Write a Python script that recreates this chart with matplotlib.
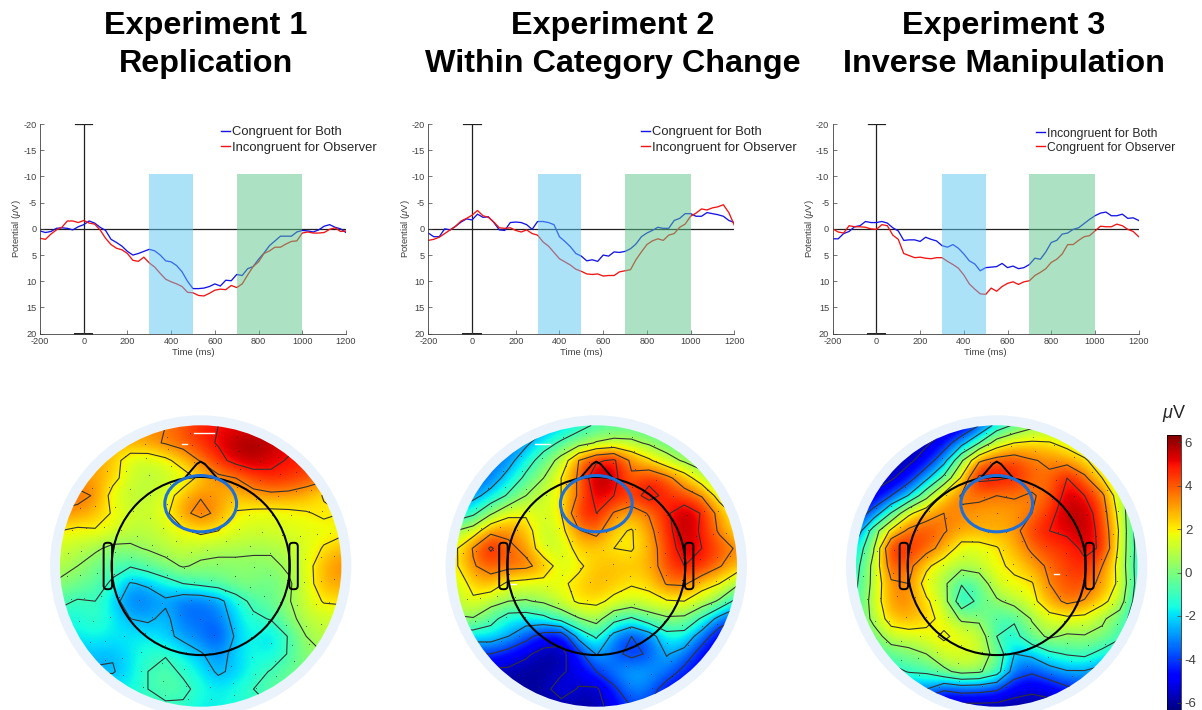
import numpy as np
import matplotlib
matplotlib.use('Agg')
import matplotlib.pyplot as plt
from matplotlib.patches import Circle, Ellipse, FancyBboxPatch

plt.rcParams['font.family'] = ['Liberation Sans', 'DejaVu Sans']
plt.rcParams['mathtext.fontset'] = 'custom'
plt.rcParams['mathtext.it'] = 'Liberation Sans:italic'
plt.rcParams['mathtext.rm'] = 'Liberation Sans'
plt.rcParams['axes.unicode_minus'] = False

W, H = 1202, 710

titles = [['Experiment 1', 'Replication'],
          ['Experiment 2', 'Within Category Change'],
          ['Experiment 3', 'Inverse Manipulation']]
legend_1 = ['Congruent for Both', 'Incongruent for Observer']
legend_2 = ['Congruent for Both', 'Incongruent for Observer']
legend_3 = ['Incongruent for Both', 'Congruent for Observer']

time_ms = list(range(-200, 1225, 25))

exp1_blue = [.4, .7, .5, -.1, -.2, -.1, .2, -.4, -.8, -1.5, -1.1, -.3, .3, 2.0, 2.6, 3.3, 4.3, 5.0, 4.7, 4.3,
             3.9, 4.2, 5.0, 6.1, 6.3, 7.0, 8.2, 10.0, 11.4, 11.4, 11.3, 11.0, 10.5, 10.9, 9.8, 9.9, 8.7, 8.9,
             7.6, 7.2, 5.8, 4.6, 3.2, 2.3, 1.4, 1.4, 1.4, .6, .3, .4, .6, .2, -.5, -.8, -.3, 0, .7]
exp1_red = [1.8, 2.0, 1.0, .2, -.3, -1.5, -1.5, -1.2, -1.6, -1.1, -.9, .2, 1.8, 3.0, 3.7, 4.0, 4.7, 6.0, 6.2, 5.4,
            6.5, 7.3, 8.5, 9.6, 10.1, 10.5, 11, 12.1, 12.2, 12.7, 12.8, 12.3, 11.7, 11.5, 11.6, 10.8, 11.2, 10.5,
            8.8, 7.2, 6.3, 4.7, 4.2, 3.5, 3.5, 2.9, 2.4, 2.3, .8, .6, .8, .8, .7, .1, -.2, .5, .4]
exp2_blue = [.8, 1.5, 1.5, 0, .2, -.5, -1.3, -1.9, -1.7, -2.8, -2.2, -2.3, -1.2, .2, .3, -1.2, -1.3, -1.2, -.8, .1,
             -1.4, -1.4, -1.2, -.8, 1.5, 2.4, 3.4, 4.7, 5.2, 6.1, 5.9, 6.2, 5.0, 5.2, 4.4, 4.5, 4.3, 3.8,
             2.9, 1.5, .8, .3, -.3, -.1, -.1, -1.6, -2.0, -2.9, -2.9, -2.4, -2.4, -3.1, -2.9, -2.7, -2.4, -1.6, -1.2]
exp2_red = [2.2, 2, 1.6, .9, .2, -.5, -1.5, -2, -2.6, -3.5, -2.5, -2.2, -1.3, -.2, -.1, -.2, .3, .6, .2, .9,
            1.2, 2.5, 3.3, 4.5, 5.7, 6.3, 6.9, 7.7, 8.1, 8.6, 8.7, 8.6, 9.0, 8.9, 8.9, 8.2, 8.0, 7.8,
            5.9, 4.4, 3.0, 2.3, 1.9, 2.2, 1.2, .9, -.3, -.9, -2.4, -3, -3.8, -3.6, -4.0, -4.2, -4.6, -3.1, -.7]
exp3_blue = [1.9, 1.9, .9, .5, -.4, -.6, -1.4, -1.2, -1.2, -1.4, -1.1, -.2, .4, 2.2, 2.1, 2.1, 2.4, 1.6, 2.0, 2.3,
             3.2, 3.5, 3.0, 3.7, 4.8, 6.1, 6.7, 8, 7.4, 7.3, 7.2, 6.6, 7.4, 7.1, 7.6, 7.4, 6.8, 5.6,
             5.8, 4.4, 2.6, 2.2, 1.0, .8, .1, -.2, -1.0, -1.8, -2.5, -3.0, -3.2, -2.5, -2.5, -2.8, -2.0, -2.1, -1.6]
exp3_red = [0, .6, .8, -.6, -.4, -.4, -.3, 0, .1, -.8, -.6, 1.2, 2.0, 4.7, 5.1, 5.5, 5.4, 5.6, 5.7, 5.5,
            5.5, 6.2, 6.8, 7.5, 8.8, 10.5, 11.5, 12.4, 12.5, 11.3, 11.9, 11.0, 10.4, 10.1, 10.6, 10.1, 9.9, 8.9,
            8.3, 7.6, 6.4, 5.8, 4.8, 3.0, 3.0, 2.2, 1.5, 1.3, .4, -.5, -.4, -.4, -.9, -.6, .1, .5, 1.5]

# scalp maps, top row first, left to right
map1 = [
    [3, 3, 3, 3, 3, 3, 3.5, 4, 4.7, 5, 5, 5, 5, 5, 5, 5, 5],
    [2.5, 2.5, 2.5, 2.7, 3, 3.2, 3.6, 4, 4.6, 5.1, 5.8, 6, 5.7, 5.3, 5, 5, 5],
    [3, 3, 3, 2.6, 1.3, 1.2, 1.7, 2.6, 3.6, 4.6, 5.4, 5.7, 5.3, 4.9, 4.7, 4.5, 4],
    [3, 3, 3, 2.4, 1.3, 1.0, 1.0, 1.4, 2.3, 3.2, 3.5, 4.3, 4.7, 4.6, 4.2, 3.9, 3.5],
    [4, 3.8, 3.4, 1.5, 1.0, 1.0, 1.5, 2.5, 3.4, 3.0, 2.6, 3.0, 3.2, 3.1, 2.8, 1.9, 2],
    [3.3, 3.2, 2.6, 1.9, 1.3, 1.2, 1.7, 3.2, 3.9, 3.2, 1.9, 1.7, 1.6, 1.7, 1.9, 2.2, 2.0],
    [2, 1.7, 1.9, 1.5, 1.0, 1.0, 1.3, 1.8, 2.3, 2.0, 1.5, 1.3, 1.4, 1.5, 1.6, 1.6, 1.7],
    [1.3, 1, .7, .2, .3, .6, .9, 1.2, .9, .8, .8, .7, .7, 1.0, 1.4, 2.1, 2.6],
    [.9, .5, -.1, -.6, -.9, -.4, .1, .6, .3, .2, .2, .2, .2, .7, 1.5, 2.8, 3.4],
    [.3, -.2, -.5, -1.2, -2.6, -2.3, -1.6, -1.0, -.7, -.4, .1, .1, -.3, .3, 1.4, 2.8, 3],
    [-.7, -1.1, -1.0, -2.0, -3.2, -3.2, -2.7, -3.4, -3.4, -2.9, -1.7, -.6, -.4, .4, 1.3, 2.1, 2.2],
    [-1.5, -1.5, -1.0, -1.7, -2.5, -2.7, -2.2, -3.3, -3.4, -3.3, -2, -1.3, -.9, .1, 1, 1.2, 1.2],
    [-1.8, -1.8, -1.6, -1.8, -1.8, -1.8, -2.2, -2.8, -3.2, -4.0, -2.3, -1.5, -2.2, -.9, .5, 1, 1],
    [-2.3, -2.3, -2.3, -2.4, -1.9, -1.3, -1.1, -1.8, -2.4, -3.0, -2.1, -1.5, -1.8, -.9, .2, .5, .5],
    [-2.6, -2.6, -2.6, -2.6, -1.9, -1.0, -.6, -1.2, -1.8, -2.7, -2.2, -1.5, -.9, -.3, 0, 0, 0],
    [-1.7, -1.7, -1.7, -1.7, -1.7, -1.0, -.6, -.7, -1.4, -1.8, -1.5, -1.0, -.5, -.4, -.4, -.4, -.4],
    [-1.2, -1.2, -1.2, -1.2, -1.2, -1.2, -1.2, -1.2, -1.8, -1.7, -1.5, -1.2, -1, -.8, -.8, -.8, -.8],
]
map2 = [
    [-4, -4, -4, -4, -3.5, -3, -2.2, -1.5, -.8, -.6, -.6, -.8, -1, -1, -1, -1, -1],
    [-4, -4, -4, -3.5, -2.8, -1.6, -.8, -.1, .6, .9, .8, .3, -.3, -.5, -.8, -.8, -.8],
    [-4, -4, -3.5, -3, -1.6, -.4, 1, 3.5, 4.8, 5.2, 3.2, 2.2, 1.1, .3, -.3, -.5, -.5],
    [-4, -3.8, -3.2, -2, -.7, .5, 2, 3.7, 6.0, 5.4, 3.7, 4.6, 3.9, 2.7, 1.2, .2, 0],
    [-3.5, -2.9, -2, -.8, .5, 1.2, 2.0, 3.7, 5.4, 5.0, 4.4, 5.5, 4.6, 4.1, 3.4, 1.4, .6],
    [-2, -1.3, .3, 1.6, 1.8, 1.2, 2.0, 4.6, 5.0, 3.4, 2.9, 3.6, 4.8, 5.8, 4.9, 3, 1.5],
    [.5, 1.2, 3.1, 3.2, 2.6, 1.0, 1.6, 3.4, 4.0, 2.3, 1.9, 3.1, 4.6, 5.8, 4.8, 3.3, 2],
    [1.8, 3.6, 5.2, 3.8, 3.2, 1.0, 1.3, 2.4, 2.4, 2.0, 1.9, 2.7, 4.4, 5.5, 5, 4.2, 3.3],
    [1.8, 3.4, 4, 3.9, 3.8, 3.0, 1.2, 1.8, 2.5, 2.7, 2.5, 2.8, 4.2, 5.0, 4.7, 3.6, 2.7],
    [1.2, 2.4, 2.9, 1.7, 1.5, 1.5, 1.8, 2.3, 2.8, 2.5, 2.1, 2.3, 3.6, 3.7, 2.5, 2, .8],
    [.9, 1.8, 1, .5, .4, .7, 1.4, 2.2, 2.3, 1.7, 1.4, 1.6, 1.9, 2, 1.3, .3, -1.5],
    [.4, .4, -.5, -1.7, -1.8, -1.4, -.5, .4, 1, -.5, -1.2, -.2, .3, .2, -1.2, -3, -4],
    [-1.8, -1.8, -1.8, -2.5, -3.5, -4.7, -5, -2, -.8, -3, -4, -3.2, -1.5, -1.6, -3.2, -5, -5.5],
    [-4, -4, -4, -4.6, -5.3, -5.9, -5.9, -4.5, -2.4, -3.6, -4.4, -3.8, -2.4, -3, -4.8, -5.5, -5.5],
    [-5.8, -5.8, -5.8, -5.8, -6, -6, -5.7, -5, -4, -3, -2.6, -2.7, -3.1, -4.5, -5, -5, -5],
    [-6, -6, -6, -6, -6, -5.9, -4.9, -5.6, -5.7, -4.3, -2.9, -3.2, -4.8, -5, -5, -5, -5],
    [-6, -6, -6, -6, -6, -6, -6, -5.8, -5.9, -5, -4, -4, -5, -5, -5, -5, -5],
]
map3 = [
    [-6, -6, -6, -6, -6, -6, -5.5, -4, -2, -.8, .1, .3, .3, .3, .3, .3, .3],
    [-6, -6, -6, -6, -5.7, -4.8, -3, -1, 1.2, 2, 2.2, 2.1, 1.5, .9, .5, .3, .2],
    [-6, -6, -6, -5.8, -4.8, -3, .3, 3.3, 4, 4.2, 3.6, 3.3, 3, 2.2, 1.1, .5, .3],
    [-6, -6, -5.7, -4.6, -2.8, -.6, 2.2, 5.3, 5.2, 4.9, 3.9, 3.7, 5, 3.8, 2, 1, 0],
    [-6, -5.3, -4, -2.4, 0, 2.5, 3.6, 3.8, 3.5, 3.6, 3.4, 3.8, 5.5, 5, 3.8, 1, -.8],
    [-5, -3.4, -.9, 1.7, 2.9, 3.5, 3.4, 3, 3, 3.1, 3.5, 4.6, 5.7, 5.7, 4.2, 1.5, -1.5],
    [-3.5, -.3, 2.3, 3.8, 4.2, 3.6, 3, 2.9, 2.9, 3, 4.5, 5, 5.2, 5.8, 4.5, 1.8, -1.7],
    [-2, .4, 5.0, 4.7, 4, 3, 1.4, 1.5, 1.9, 2.8, 3.7, 4.4, 4.6, 5.2, 4.9, 1.6, -1.5],
    [-1.5, .9, 4.2, 3.9, 2.3, 1.2, .9, 1.1, 1.9, 2.1, 3, 3.7, 4.4, 4.8, 3.5, 1.5, -1.6],
    [-1.2, .9, 3.3, 3.5, 1.4, .8, -.9, -.4, 1.4, 1.9, 1.9, 3.5, 4.1, 4.3, 3, 1.7, -1.5],
    [-1, 1.1, 3.2, 3.4, 2.2, 1.1, -2, -.6, .3, 1, 1.6, 2.9, 3.8, 3.4, 2.4, 1.2, -1.8],
    [-1, .9, 2.6, 2.9, 2.4, 1.6, .3, .2, -.8, -.8, .6, 1.5, 1.7, 1.6, .7, -.2, -2],
    [-1, -.2, 1.2, 1.4, 1.6, 2.2, 1.6, 1.4, -1.0, -1.5, 0, .7, .3, .4, .2, -.8, -2],
    [-1, -1, -.3, 0, .5, 1.4, 1.5, 1.3, 0, -2.5, -2.2, -1.3, -.9, -.7, -1.5, -2, -2],
    [-2, -2, -1.5, -.9, -.8, .2, .9, .7, -.4, -3.2, -3.8, -3.1, -2.6, -2.6, -3, -3, -3],
    [-3, -3, -3, -3, -2.5, -3.8, -3.4, -3.5, -3.8, -5, -5.3, -5, -4.3, -4, -4, -4, -4],
    [-6, -6, -6, -6, -6, -6, -6, -6, -6, -6, -6, -6, -6, -6, -6, -6, -6],
]

# electrode rings: radius in disc units and how many sit on it
ring_radii = [.12, .25, .38, .5, .62, .74, .86, .95]
ring_counts = [6, 12, 16, 20, 24, 28, 32, 36]

# small white flecks left in the maps, [x0, x1, y] in disc units
flecks_1 = [[-.05, .095, .948], [-.135, -.10, .87]]
flecks_2 = [[-.436, -.33, .87], [-.61, -.57, -.13]]
flecks_3 = [[.41, .445, -.057]]

cticks = [-6, -4, -2, 0, 2, 4, 6]
contour_levels = [-5.5, -4, -2.5, -1, .5, 2, 3.5, 5]
vlim = 6.33


def px_axes(fig, left, top, right, bottom):
    return fig.add_axes([left / W, 1 - bottom / H, (right - left) / W, (bottom - top) / H])


def draw_erp(fig, left, blue, red, labels, leg_x, leg_y, leg_size):
    ax = px_axes(fig, left, 124, left + 306, 333.7)
    ax.plot(time_ms, blue, color='#1414e6', lw=0.95, zorder=2)
    ax.plot(time_ms, red, color='#f01414', lw=0.95, zorder=2)
    ax.plot([-200, 1200], [0, 0], color='#202020', lw=0.9, zorder=1)
    ax.plot([0, 0], [-20, 20], color='#202020', lw=0.9, zorder=1)
    ax.plot([-40, 40], [-20, -20], color='#202020', lw=0.9, zorder=1)
    ax.plot([-40, 40], [20, 20], color='#202020', lw=1.4, clip_on=False, zorder=1)
    ax.fill_between([300, 500], -10.5, 20, color='#5bc7f1', alpha=0.5, lw=0, zorder=3)
    ax.fill_between([700, 1000], -10.5, 20, color='#5bc789', alpha=0.5, lw=0, zorder=3)
    ax.set_xlim(-200, 1200)
    ax.set_ylim(20, -20)
    ax.set_xticks(range(-200, 1400, 200))
    ax.set_yticks(range(-20, 25, 5))
    ax.tick_params(direction='in', length=3, width=0.5, labelsize=6.6, colors='#404040', pad=2.5)
    for s in ['top', 'right']:
        ax.spines[s].set_visible(False)
    for s in ['left', 'bottom']:
        ax.spines[s].set_linewidth(0.6)
        ax.spines[s].set_color('#404040')
    ax.set_xlabel('Time (ms)', fontsize=6.8, color='#404040', labelpad=1.5)
    ax.set_ylabel('Potential ($\\mu$V)', fontsize=6.8, color='#404040', labelpad=0)
    # legend by hand, no frame
    fig.add_artist(plt.Line2D([leg_x / W, (leg_x + 9) / W], [1 - leg_y[0] / H] * 2, color='#1414e6', lw=1))
    fig.add_artist(plt.Line2D([leg_x / W, (leg_x + 9) / W], [1 - leg_y[1] / H] * 2, color='#f01414', lw=1))
    for lab, y in zip(labels, leg_y):
        fig.text((leg_x + 11) / W, 1 - (y + 1.5) / H, lab, fontsize=leg_size, color='#262626', va='center')


def draw_map(fig, cx, data, flecks):
    cy = 566
    R = 140.7
    ext = 1.08
    ax = px_axes(fig, cx - R * ext, cy - R * ext, cx + R * ext, cy + R * ext)
    ax.add_patch(Circle((0, 0), 1.071, fc='#eaf3fc', ec='none', zorder=0))
    step = 2 / 16
    im = ax.imshow(data, cmap='jet', vmin=-vlim, vmax=vlim, interpolation='bicubic', zorder=1,
                   extent=[-1 - step / 2, 1 + step / 2, -1 - step / 2, 1 + step / 2])
    clip = Circle((0, 0), 1.0, transform=ax.transData)
    im.set_clip_path(clip)
    gx = np.linspace(-1, 1, 17)
    cs = ax.contour(gx, gx[::-1], data, levels=contour_levels, colors='#333333',
                    linewidths=0.8, linestyles='solid', zorder=2)
    cs.set_clip_path(clip)
    # electrodes
    for r, n in zip(ring_radii, ring_counts):
        ang = np.linspace(0, 2 * np.pi, n, endpoint=False) + r
        ax.scatter(r * np.cos(ang), r * np.sin(ang), s=0.3, color='#222222', lw=0, zorder=3)
    for x0, x1, y in flecks:
        ax.plot([x0, x1], [y, y], color='white', lw=1, zorder=3)
    # head outline
    ax.add_patch(Circle((0, 0), 0.633, fc='none', ec='black', lw=1.5, zorder=4))
    ax.plot([-.111, -.028, 0, .03, .114], [.628, .725, .742, .725, .628], color='black', lw=1.4, zorder=4)
    for ex in (-.66, .66):
        ax.add_patch(FancyBboxPatch((ex - .005, -.14), .01, .28, boxstyle='round,pad=0.025',
                                    fc='none', ec='black', lw=1.4, zorder=3))
    ax.add_patch(Ellipse((0, .443), .51, .40, fc='none', ec='#1f6fd8', lw=2.2, zorder=5))
    ax.set_xlim(-ext, ext)
    ax.set_ylim(-ext, ext)
    ax.axis('off')
    return im


fig = plt.figure(figsize=(W / 100, H / 100), dpi=100)

title_x = [206, 613, 1004]
for tx, (l1, l2) in zip(title_x, titles):
    fig.text(tx / W, 1 - 26 / H, l1, fontsize=23.3, fontweight='bold', ha='center', va='center', color='black')
    fig.text(tx / W, 1 - 64 / H, l2, fontsize=23.3, fontweight='bold', ha='center', va='center', color='black')

draw_erp(fig, 40, exp1_blue, exp1_red, legend_1, 221, (131, 146), 9.4)
draw_erp(fig, 428.3, exp2_blue, exp2_red, legend_2, 641, (131, 146), 9.4)
draw_erp(fig, 832.7, exp3_blue, exp3_red, legend_3, 1036, (132, 146), 8.7)

draw_map(fig, 200.7, map1, flecks_1)
draw_map(fig, 596.3, map2, flecks_2)
im = draw_map(fig, 996.7, map3, flecks_3)

cax = px_axes(fig, 1167.3, 435, 1180.7, 710)
cb = fig.colorbar(im, cax=cax, ticks=cticks)
cb.ax.tick_params(direction='in', length=3, width=0.5, labelsize=9.5, colors='#404040', pad=3)
cb.outline.set_linewidth(0.5)
fig.text(1174 / W, 1 - 414 / H, '$\\mathit{\\mu}$V', fontsize=13, ha='center', va='center', color='#262626')

fig.savefig('out.png', dpi=100)
